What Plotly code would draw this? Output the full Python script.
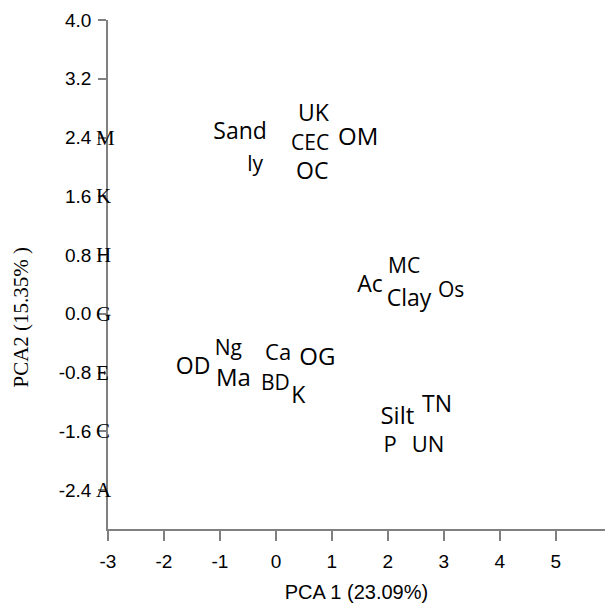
import plotly.graph_objects as go

# ---- data ----
labels = ["Sand", "UK", "CEC", "OM", "ly", "OC",
          "MC", "Ac", "Clay", "Os",
          "Ng", "OD", "Ma", "Ca", "OG", "BD", "K",
          "Silt", "TN", "P", "UN"]
pc1 = [-0.64, 0.67, 0.61, 1.47, -0.37, 0.65,
       2.29, 1.68, 2.38, 3.13,
       -0.85, -1.48, -0.76, 0.04, 0.74, -0.01, 0.40,
       2.17, 2.88, 2.04, 2.72]
pc2 = [2.46, 2.70, 2.30, 2.38, 2.01, 1.91,
       0.63, 0.37, 0.19, 0.30,
       -0.49, -0.735, -0.90, -0.56, -0.61, -0.97, -1.14,
       -1.415, -1.265, -1.81, -1.81]

y_tick_vals = [4.0, 3.2, 2.4, 1.6, 0.8, 0.0, -0.8, -1.6, -2.4]
y_tick_text = ["4.0", "3.2", "2.4", "1.6", "0.8", "0.0", "-0.8", "-1.6", "-2.4"]
y_tick_letters = ["", "", "M", "K", "H", "G", "E", "C", "A"]
x_tick_vals = [-3, -2, -1, 0, 1, 2, 3, 4, 5]
x_tick_text = ["-3", "-2", "-1", "0", "1", "2", "3", "4", "5"]

x_title = "PCA 1 (23.09%)"
y_title = "PCA2 (15.35% )"

# ---- style ----
size_override = {"MC": 21, "Os": 21, "Ng": 21, "BD": 21, "ly": 21, "Ca": 22,
                 "CEC": 21,
                 "OM": 24, "Ma": 24, "OG": 24, "Silt": 24, "P": 22, "UN": 22}
sizes = [size_override.get(l, 23) for l in labels]

fig = go.Figure()
fig.add_trace(go.Scatter(
    x=pc1, y=pc2, text=labels, mode="text",
    textposition="middle center",
    textfont=dict(family="Open Sans", size=sizes, color="black"),
    hoverinfo="skip", showlegend=False))

axis_col = "#808080"
fig.update_xaxes(range=[-3, 5.88], tickvals=x_tick_vals, ticktext=x_tick_text,
                 showline=True, linecolor=axis_col, linewidth=1.5,
                 ticks="outside", ticklen=10, tickcolor=axis_col, tickwidth=1.5,
                 ticklabelstandoff=4,
                 showgrid=False, zeroline=False,
                 tickfont=dict(family="Liberation Sans", size=19, color="black"),
                 title=dict(text=x_title, standoff=14,
                            font=dict(family="Liberation Sans", size=20, color="black")))
fig.update_yaxes(range=[-2.93, 4.0], tickvals=y_tick_vals, ticktext=y_tick_text,
                 showline=True, linecolor=axis_col, linewidth=1.5,
                 ticks="outside", ticklen=8, tickcolor=axis_col, tickwidth=1.5,
                 ticklabelstandoff=3,
                 showgrid=False, zeroline=False,
                 tickfont=dict(family="Liberation Sans", size=19, color="black"))

for v, letter in zip(y_tick_vals, y_tick_letters):
    if letter:
        fig.add_annotation(xref="paper", yref="y", x=0, y=v, text=letter,
                           xanchor="left", yanchor="middle", xshift=-14,
                           showarrow=False,
                           font=dict(family="Liberation Serif", size=21, color="black"))

fig.add_annotation(xref="paper", yref="paper", x=-0.176, y=0.4165, text=y_title,
                   textangle=-90, showarrow=False, xanchor="center", yanchor="middle",
                   font=dict(family="Liberation Serif", size=21, color="black"))

fig.update_layout(width=605, height=603, margin=dict(l=108, r=0, t=20, b=74),
                  plot_bgcolor="white", paper_bgcolor="white")
fig.write_html("out.html")
